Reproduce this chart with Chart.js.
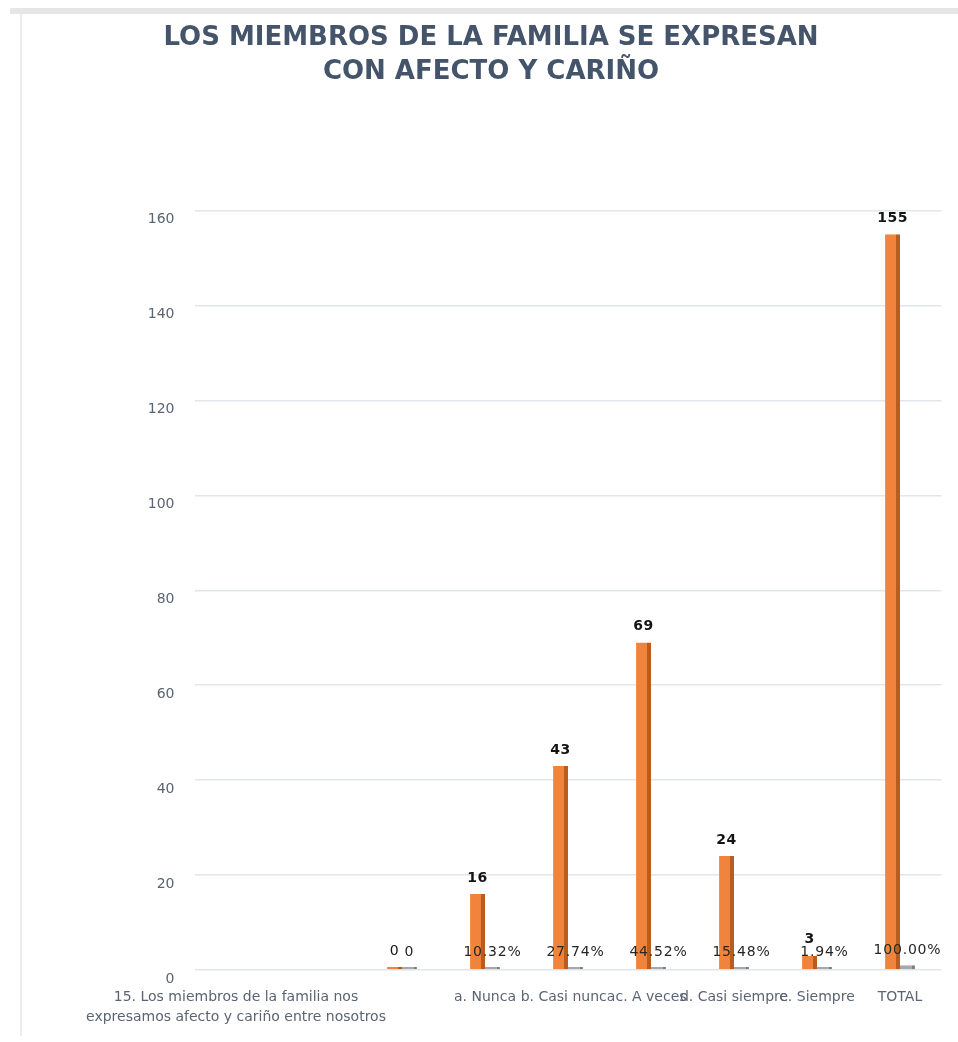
<!DOCTYPE html>
<html>
<head>
<meta charset="utf-8">
<script src="https://cdn.jsdelivr.net/npm/chart.js@4.4.1/dist/chart.umd.min.js"></script>
<style>
  html, body { margin: 0; padding: 0; background: #ffffff; }
  #wrap { position: relative; width: 958px; height: 1042px; overflow: hidden; }
  #topband { position: absolute; left: 10px; right: 0; top: 8px; height: 6px; background: #e6e6e6; }
  #leftline { position: absolute; left: 20px; top: 14px; width: 2px; bottom: 6px; background: #e9ecf1; }
  canvas { position: absolute; left: 0; top: 0; }
</style>
</head>
<body>
<div id="wrap">
  <div id="topband"></div>
  <div id="leftline"></div>
  <canvas id="c" width="958" height="1042"></canvas>
</div>
<script>
const titleLines = ['LOS MIEMBROS DE LA FAMILIA SE EXPRESAN', 'CON AFECTO Y CARIÑO'];
const categories = [
  ['15. Los miembros de la familia nos', 'expresamos afecto y cariño entre nosotros'],
  '', '',
  'a. Nunca', 'b. Casi nunca', 'c. A veces', 'd. Casi siempre', 'e. Siempre', 'TOTAL'
];
const counts   = [null, null, 0, 16, 43, 69, 24, 3, 155];
const percents = [null, null, 0, 0.1032, 0.2774, 0.4452, 0.1548, 0.0194, 1.0];
const yTicks = [0, 20, 40, 60, 80, 100, 120, 140, 160];

const labelPlugin = {
  id: 'barLabels',
  afterDatasetsDraw(chart) {
    const ctx = chart.ctx;
    ctx.save();
    ctx.textAlign = 'center';
    ctx.textBaseline = 'middle';
    chart.data.datasets.forEach((ds, di) => {
      const meta = chart.getDatasetMeta(di);
      meta.data.forEach((el, i) => {
        const v = ds.data[i];
        if (v === null || v === undefined) return;
        if (di === 0) {
          ctx.font = (v === 0 ? '' : 'bold ') + '14px "DejaVu Sans"';
          ctx.fillStyle = '#141414';
          try { ctx.letterSpacing = '0.5px'; } catch (e) {}
          ctx.fillText(String(v), el.x, el.y - 16);
        } else {
          ctx.font = '14px "DejaVu Sans"';
          ctx.fillStyle = '#262626';
          try { ctx.letterSpacing = '0.8px'; } catch (e) {}
          const txt = v === 0 ? '0' : (v * 100).toFixed(2) + '%';
          ctx.fillText(txt, el.x, el.y - 15);
        }
      });
    });
    ctx.restore();
  }
};

new Chart(document.getElementById('c'), {
  type: 'bar',
  data: {
    labels: categories,
    datasets: [
      {
        label: 'Frecuencia',
        data: counts,
        backgroundColor: '#F0843C',
        borderColor: '#B85C20',
        borderWidth: { top: 0, right: 4, bottom: 0, left: 0 },
        borderSkipped: false,
        minBarLength: 3,
        categoryPercentage: 0.36,
        barPercentage: 1.0
      },
      {
        label: 'Porcentaje',
        data: percents,
        backgroundColor: '#A8A8A8',
        borderColor: '#7E7E7E',
        borderWidth: { top: 0, right: 3, bottom: 0, left: 0 },
        borderSkipped: false,
        minBarLength: 3,
        categoryPercentage: 0.36,
        barPercentage: 1.0
      }
    ]
  },
  options: {
    responsive: false,
    maintainAspectRatio: false,
    animation: false,
    layout: { padding: { left: 40.5, right: 16.5, top: 0, bottom: 0 } },
    plugins: {
      legend: { display: false },
      tooltip: { enabled: false },
      title: {
        display: true,
        text: titleLines,
        color: '#44546A',
        font: { family: 'DejaVu Sans', size: 26, weight: 'bold', lineHeight: 1.32 },
        padding: { top: 21, bottom: 121 }
      }
    },
    scales: {
      x: {
        grid: { display: false, drawTicks: false },
        border: { display: false },
        ticks: {
          autoSkip: false,
          maxRotation: 0,
          minRotation: 0,
          padding: 17,
          color: '#5B6472',
          font: { family: 'DejaVu Sans', size: 14, lineHeight: 1.43 }
        },
        afterFit(s) { s.height = 72; }
      },
      y: {
        min: 0,
        max: 160,
        afterBuildTicks(s) { s.ticks = yTicks.map(v => ({ value: v })); },
        grid: { color: '#E2E5EB', lineWidth: 1.5, drawTicks: false },
        border: { display: false },
        ticks: {
          padding: 20,
          color: '#5B6472',
          font: { family: 'DejaVu Sans', size: 14, lineHeight: 1.3 },
          callback: (v) => ['', String(v)]
        },
        afterFit(s) { s.width = 154; }
      }
    }
  },
  plugins: [labelPlugin]
});
</script>
</body>
</html>
